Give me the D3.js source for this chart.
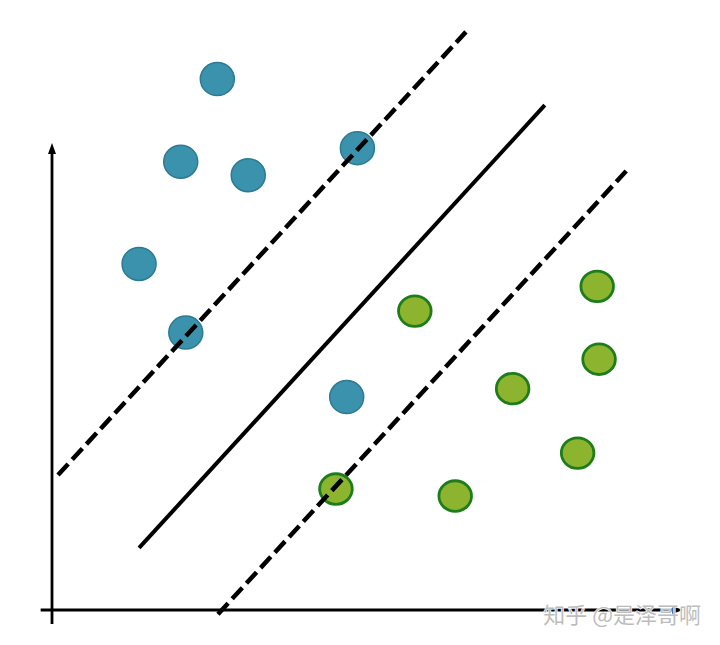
<!DOCTYPE html>
<html>
<head>
<meta charset="utf-8">
<script src="https://cdn.jsdelivr.net/npm/d3@7"></script>
<style>
  html, body { margin: 0; padding: 0; background: #ffffff; }
  svg { display: block; }
</style>
</head>
<body>
<svg id="chart" width="720" height="645"></svg>
<script>
// ---- data (arbitrary units) ----
const blueX = [2.62, 2.04, 3.11, 4.84, 1.38, 2.12, 4.67];
const blueY = [11.37, 9.60, 9.31, 9.89, 7.41, 5.94, 4.56];
const greenX = [5.75, 8.64, 8.67, 7.30, 8.33, 6.39, 4.50];
const greenY = [6.40, 6.93, 5.37, 4.74, 3.36, 2.44, 2.59];
const lineNames = ["upperMargin", "hyperplane", "lowerMargin"];
const lineX1 = [0.095, 1.38, 2.63];
const lineY1 = [2.89, 1.33, -0.09];
const lineX2 = [6.56, 7.81, 9.10];
const lineY2 = [12.38, 10.81, 9.40];
const watermark = "知乎 @是泽哥啊";

// ---- scales ----
const x = d3.scaleLinear().domain([0, 10]).range([52, 683]);
const y = d3.scaleLinear().domain([0, 10]).range([610, 143]);

const svg = d3.select("#chart");

// ---- axes ----
const axisG = svg.append("g");
axisG.append("line")
  .attr("x1", x(0)).attr("y1", y(-0.3))
  .attr("x2", x(0)).attr("y2", y(10) + 8)
  .attr("stroke", "#000").attr("stroke-width", 2.8);
axisG.append("path")
  .attr("d", `M${x(0)},${y(10)} L${x(0) - 4},${y(10) + 11} L${x(0) + 4},${y(10) + 11} Z`)
  .attr("fill", "#000");
axisG.append("line")
  .attr("x1", x(-0.18)).attr("y1", y(0))
  .attr("x2", x(10) - 8).attr("y2", y(0))
  .attr("stroke", "#000").attr("stroke-width", 2.8);
axisG.append("path")
  .attr("d", `M${x(10)},${y(0)} L${x(10) - 11},${y(0) - 4} L${x(10) - 11},${y(0) + 4} Z`)
  .attr("fill", "#000");

// ---- points ----
const blue = blueX.map((v, i) => ({ x: v, y: blueY[i] }));
const green = greenX.map((v, i) => ({ x: v, y: greenY[i] }));

svg.append("g").selectAll("ellipse").data(blue).join("ellipse")
  .attr("cx", d => x(d.x)).attr("cy", d => y(d.y))
  .attr("rx", 17).attr("ry", 16.5)
  .attr("fill", "#3b92ad").attr("stroke", "#2c7a93").attr("stroke-width", 1.5);

svg.append("g").selectAll("ellipse").data(green).join("ellipse")
  .attr("cx", d => x(d.x)).attr("cy", d => y(d.y))
  .attr("rx", 16.3).attr("ry", 15.3)
  .attr("fill", "#8db42e").attr("stroke", "#1d7d1a").attr("stroke-width", 2.8);

// ---- lines ----
const lines = lineNames.map((n, i) => ({
  name: n, x1: lineX1[i], y1: lineY1[i], x2: lineX2[i], y2: lineY2[i]
}));
svg.append("g").selectAll("line").data(lines).join("line")
  .attr("x1", d => x(d.x1)).attr("y1", d => y(d.y1))
  .attr("x2", d => x(d.x2)).attr("y2", d => y(d.y2))
  .attr("stroke", "#000")
  .attr("stroke-width", d => d.name === "hyperplane" ? 4 : 4.5)
  .attr("stroke-dasharray", d => d.name === "hyperplane" ? null : "15,6")
  .attr("stroke-linecap", "butt");

// ---- watermark ----
svg.append("text")
  .attr("x", 701).attr("y", 623)
  .attr("text-anchor", "end")
  .attr("font-family", "'Noto Sans CJK SC', sans-serif")
  .attr("font-size", 22)
  .attr("fill", "#bdbdbd")
  .attr("stroke", "#ffffff").attr("stroke-width", 1.2)
  .attr("paint-order", "stroke")
  .text(watermark);
</script>
</body>
</html>
